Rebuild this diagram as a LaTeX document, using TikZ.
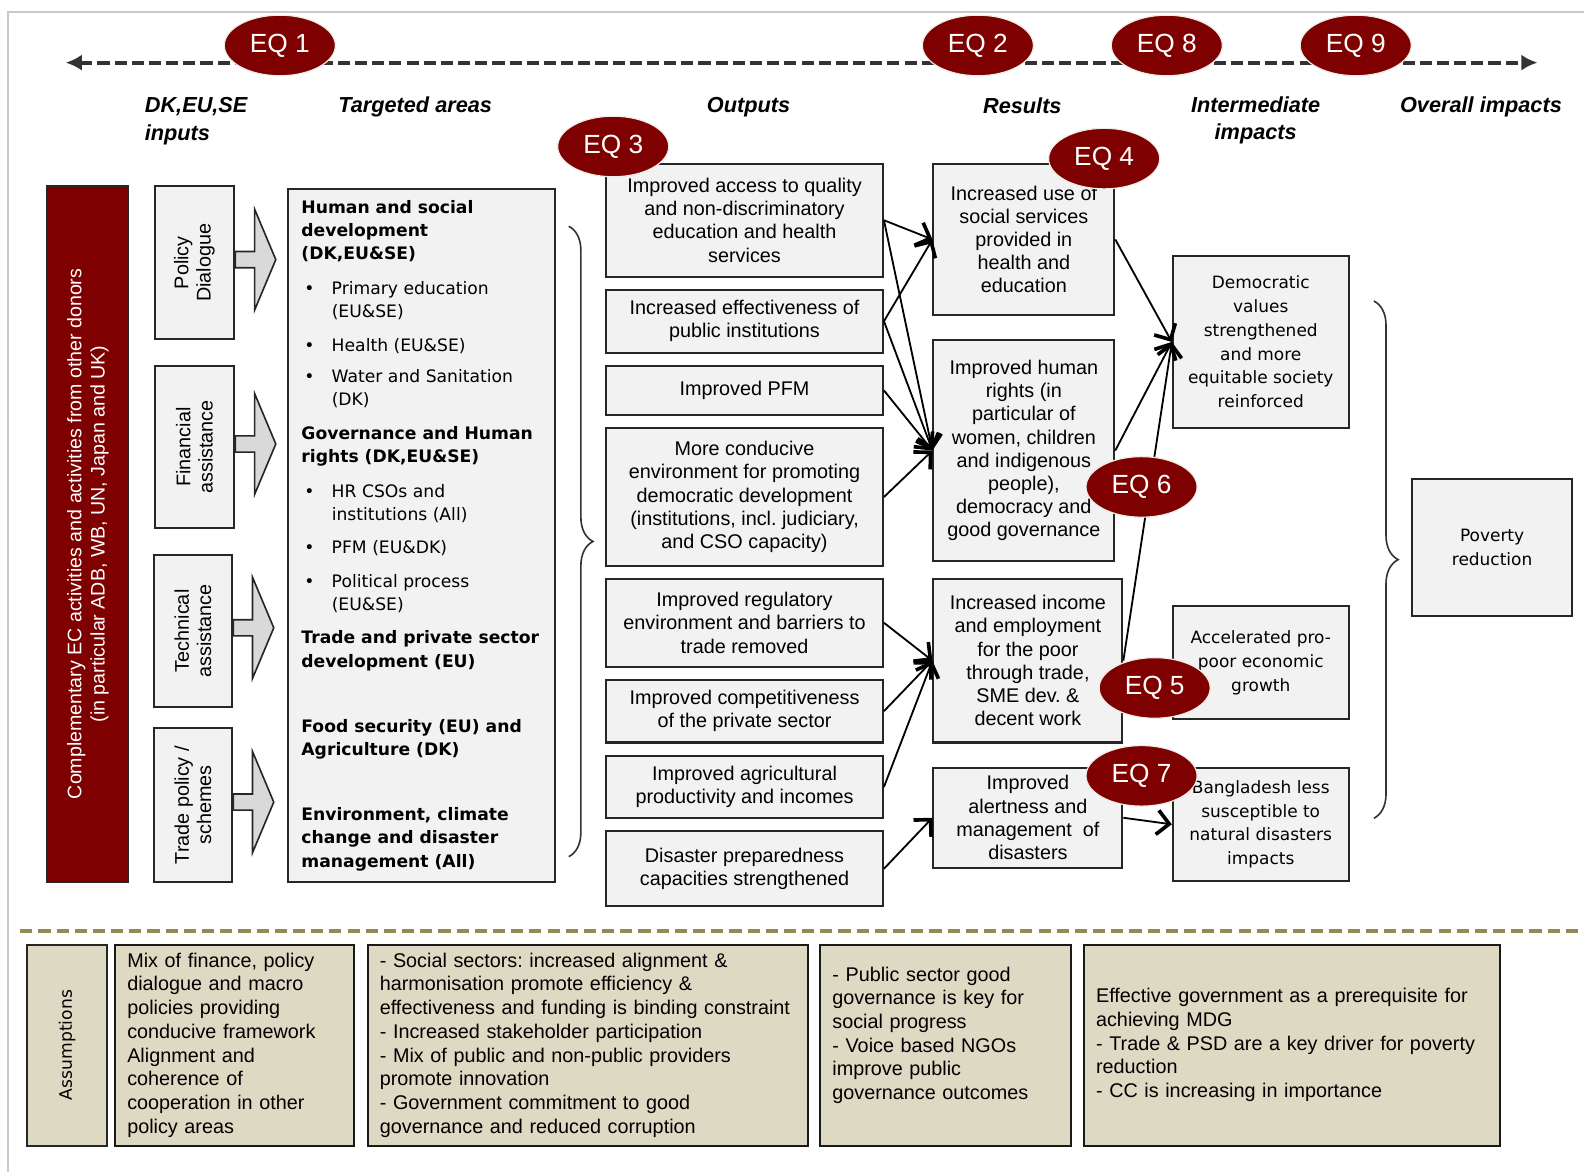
\documentclass[tikz,border=0pt]{standalone}
\usepackage{fontspec}
\setmainfont{Liberation Sans}
\newfontfamily\widefont{DejaVu Sans}
\usetikzlibrary{arrows.meta,shapes.geometric,decorations.pathreplacing}
\definecolor{eqred}{HTML}{7F0000}
\definecolor{boxgray}{HTML}{F2F2F2}
\definecolor{arrgray}{HTML}{D9D9D9}
\definecolor{beige}{HTML}{DDD9C3}
\definecolor{olivedash}{HTML}{948A54}
\definecolor{framegray}{HTML}{C8C8C8}
\definecolor{linegray}{HTML}{333333}
\newcommand{\bul}{\hspace*{1.5pt}\makebox[13.5pt][l]{\textbullet}}
\newcommand{\ind}{\hspace*{15pt}}
\frenchspacing

\begin{document}
\begin{tikzpicture}[x=0.5pt,y=-0.5pt,>={Straight Barb[length=6pt,width=12pt,line width=1.8pt]},
    sz/.style 2 args={minimum width=#1,minimum height=#2},
    box/.style={draw=black!85,line width=1pt,fill=boxgray,inner sep=0pt,align=center,font=\fontsize{9.8}{11.5}\selectfont},
    widebox/.style={box,font=\widefont\fontsize{8.4}{11.75}\selectfont},
    inp/.style={box,rotate=90,font=\fontsize{9.8}{11}\selectfont},
    blockarr/.style={draw=black!85,line width=0.8pt,fill=arrgray},
    asm/.style={draw=black!90,line width=1pt,fill=beige,inner xsep=6pt,inner ysep=0pt,align=left,font=\fontsize{9.8}{11.75}\selectfont},
    head/.style={font=\fontsize{10.75}{13.5}\selectfont\bfseries\itshape},
    eq/.style={ellipse,fill=eqred,draw=white!85!olivedash,line width=0.6pt,text=white,minimum width=55pt,minimum height=30pt,inner sep=0pt,font=\fontsize{13}{15}\selectfont},
    conn/.style={->,line width=0.9pt},
    bracket/.style={decorate,decoration={brace,amplitude=12pt},draw=linegray,line width=0.8pt}]

  \useasboundingbox (0,0) rectangle (1568,1160);
  \draw[framegray,line width=1pt] (8,1160) -- (8,12) -- (1568,12);

  \coordinate (tlft) at (65,62);
  \coordinate (trgt) at (1522,62);
  \draw[linegray,line width=2pt,dash pattern=on 6pt off 2.5pt,{Latex[length=8pt,width=8pt]}-{Latex[length=8pt,width=8pt]}] (tlft) -- (trgt);

  \node[head,anchor=west,align=left,inner sep=0pt] (hin) at (143,120) {DK,EU,SE\\inputs};
  \node[head] (htg) at (411,106) {Targeted areas};
  \node[head] (hout) at (741,106) {Outputs};
  \node[head] (hres) at (1012,105) {Results};
  \node[head,align=center] (hint) at (1243,119) {Intermediate\\impacts};
  \node[head] (hov) at (1466,106) {Overall impacts};

  \node[box,rotate=90,fill=eqred,text=white,sz={344.5pt}{40pt},font=\fontsize{9.7}{11.5}\selectfont] (donors) at (87,528.5)
    {Complementary EC activities and activities from other donors\\(in particular ADB, WB, UN, Japan and UK)};

  \node[inp,sz={76pt}{39.5pt}] (pol) at (192.5,260) {Policy\\Dialogue};
  \node[inp,sz={80.5pt}{39.5pt}] (fin) at (192.5,442.5) {Financial\\assistance};
  \node[inp,sz={75.5pt}{39pt}] (tec) at (191,624.5) {Technical\\assistance};
  \node[inp,sz={76pt}{39pt}] (tra) at (191,797) {Trade policy /\\schemes};

  \foreach \n in {pol,fin,tec,tra}
    \draw[blockarr] (\n.south) ++(0,-3) ++(0,8) -- ++(19,0) -- ++(0,42) -- ++(21,-50) -- ++(-21,-50) -- ++(0,42) -- ++(-19,0) -- cycle;

  \node[box,sz={132pt}{343pt}] (tgbox) at (417,530) {};
  \node[anchor=north west,align=left,inner sep=0pt,font=\widefont\fontsize{8.5}{11.5}\selectfont] (tgtxt) at (298,198)
    {\textbf{Human and social}\\ \textbf{development}\\ \textbf{(DK,EU\&SE)}\\[5.5pt]
     \bul Primary education\\ \ind(EU\&SE)\\[5.5pt]
     \bul Health (EU\&SE)\\[3.5pt]
     \bul Water and Sanitation\\ \ind(DK)\\[5.5pt]
     \textbf{Governance and Human}\\ \textbf{rights (DK,EU\&SE)}\\[5.5pt]
     \bul HR CSOs and\\ \ind institutions (All)\\[5pt]
     \bul PFM (EU\&DK)\\[5pt]
     \bul Political process\\ \ind(EU\&SE)\\[5pt]
     \textbf{Trade and private sector}\\ \textbf{development (EU)}\\[21pt]
     \textbf{Food security (EU) and}\\ \textbf{Agriculture (DK)}\\[20.5pt]
     \textbf{Environment, climate}\\ \textbf{change and disaster}\\ \textbf{management (All)}};

  \node[box,sz={137pt}{56pt}] (o1) at (737,218) {Improved access to quality\\and non-discriminatory\\education and health\\services};
  \node[box,sz={137pt}{31pt}] (o2) at (737,318) {Increased effectiveness of\\public institutions};
  \node[box,sz={137pt}{24.5pt}] (o3) at (737,386.5) {Improved PFM};
  \node[box,sz={137pt}{68pt}] (o4) at (737,492) {More conducive\\environment for promoting\\democratic development\\(institutions, incl. judiciary,\\and CSO capacity)};
  \node[box,sz={137pt}{43.5pt}] (o5) at (737,616.5) {Improved regulatory\\environment and barriers to\\trade removed};
  \node[box,sz={137pt}{31pt}] (o6) at (737,704) {Improved competitiveness\\of the private sector};
  \node[box,sz={137pt}{31pt}] (o7) at (737,779) {Improved agricultural\\productivity and incomes};
  \node[box,sz={137pt}{37pt}] (o8) at (737,860) {Disaster preparedness\\capacities strengthened};

  \node[box,sz={89.5pt}{75pt}] (r1) at (1013.5,237) {Increased use of\\social services\\provided in\\health and\\education};
  \node[box,sz={89.5pt}{109pt}] (r2) at (1013.5,446) {Improved human\\rights (in\\particular of\\women, children\\and indigenous\\people),\\democracy and\\good governance};
  \node[box,sz={93.5pt}{81pt}] (r3) at (1017.5,654) {Increased income\\and employment\\for the poor\\through trade,\\SME dev. \&\\decent work};
  \node[box,sz={93.5pt}{49.5pt}] (r4) at (1017.5,809.5) {Improved\\alertness and\\management\ \ of\\disasters};

  \node[widebox,sz={87pt}{85.5pt}] (i1) at (1248,338.5) {Democratic\\values\\strengthened\\and more\\equitable society\\reinforced};
  \node[widebox,sz={87pt}{56pt}] (i2) at (1248,656) {Accelerated pro-\\poor economic\\growth};
  \node[widebox,sz={87pt}{56pt}] (i3) at (1248,816) {Bangladesh less\\susceptible to\\natural disasters\\impacts};

  \node[widebox,sz={79pt}{68pt}] (pov) at (1477,542) {Poverty\\reduction};

  \coordinate (br1a) at (563,224);
  \coordinate (br1b) at (563,848);
  \coordinate (br2a) at (1360,298);
  \coordinate (br2b) at (1360,810);
  \draw[bracket] (br1a) -- (br1b);
  \draw[bracket] (br2a) -- (br2b);

  \path[conn] (o1.east) edge (r1.west)
        (o2.east) edge (r1.west)
        (o1.east) edge (r2.west)
        (o2.east) edge (r2.west)
        (o3.east) edge (r2.west)
        (o4.east) edge (r2.west)
        (r1.east) edge (i1.west)
        (r2.east) edge (i1.west)
        (r3.east) edge (i1.west)
        (o5.east) edge (r3.west)
        (o6.east) edge (r3.west)
        (o7.east) edge (r3.west)
        (o8.east) edge (r4.west)
        (r4.east) edge (i3.west);

  \draw[olivedash,line width=2pt,dash pattern=on 6pt off 3pt] (20,922) -- (1568,922);

  \node[box,rotate=90,fill=beige,sz={99.5pt}{39.5pt},font=\widefont\fontsize{8.5}{11}\selectfont] (a0) at (66.5,1034.5) {Assumptions};
  \node[asm,text width=106pt,minimum height=99.5pt] (a1) at (232,1034.5)
    {Mix of finance, policy\\dialogue and macro\\policies providing\\conducive framework\\Alignment and\\coherence of\\cooperation in other\\policy areas};
  \node[asm,text width=206pt,minimum height=99.5pt] (a2) at (582,1034.5)
    {- Social sectors: increased alignment \&\\harmonisation promote efficiency \&\\effectiveness and funding is binding constraint\\- Increased stakeholder participation\\- Mix of public and non-public providers\\promote innovation\\- Government commitment to good\\governance and reduced corruption};
  \node[asm,text width=112pt,minimum height=99.5pt] (a3) at (936,1034.5)
    {- Public sector good\\governance is key for\\social progress\\- Voice based NGOs\\improve public\\governance outcomes\\ \mbox{}};
  \node[asm,text width=194pt,minimum height=99.5pt] (a4) at (1279,1034.5)
    {Effective government as a prerequisite for\\achieving MDG\\- Trade \& PSD are a key driver for poverty\\reduction\\- CC is increasing in importance};

  \node[eq] (eq1) at (277,45) {EQ 1};
  \node[eq] (eq2) at (968,45) {EQ 2};
  \node[eq] (eq8) at (1155,45) {EQ 8};
  \node[eq] (eq9) at (1342,45) {EQ 9};
  \node[eq] (eq3) at (607,145) {EQ 3};
  \node[eq] (eq4) at (1093,157) {EQ 4};
  \node[eq] (eq6) at (1130,482) {EQ 6};
  \node[eq] (eq5) at (1143,681) {EQ 5};
  \node[eq] (eq7) at (1130,768) {EQ 7};

\end{tikzpicture}
\end{document}
